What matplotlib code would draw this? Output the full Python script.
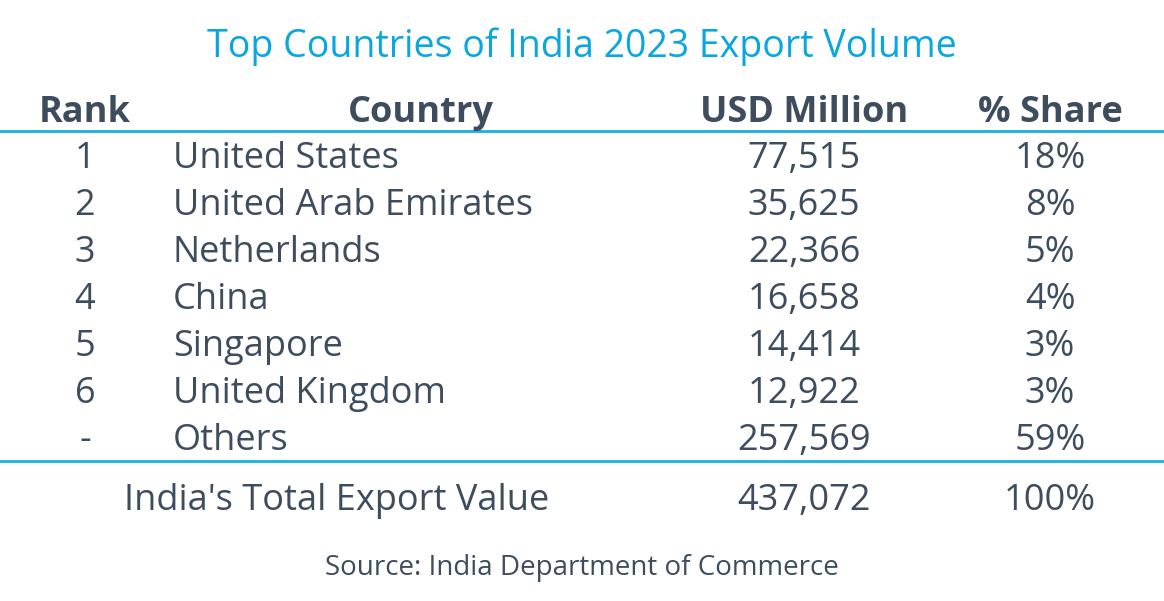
import matplotlib.pyplot as plt

# -----------------------------
# Данные таблицы
# -----------------------------

title = "Top Countries of India 2023 Export Volume"
headers = ["Rank", "Country", "USD Million", "% Share"]

ranks = ["1", "2", "3", "4", "5", "6", "-"]
countries = ["United States", "United Arab Emirates", "Netherlands", "China",
             "Singapore", "United Kingdom", "Others"]
usd_million = [77515, 35625, 22366, 16658, 14414, 12922, 257569]
shares = [18, 8, 5, 4, 3, 3, 59]

total_label = "India's Total Export Value"
total_usd = 437072
total_share = 100

source = "Source: India Department of Commerce"

# -----------------------------
# Оформление
# -----------------------------

W, H = 1164, 601
text_col = "#3e4d5e"
blue = "#0aa6e0"
line_col = "#18afe6"
font = "Open Sans"
fs = 26

fig = plt.figure(figsize=(W / 100, H / 100), dpi=100)
ax = fig.add_axes([0, 0, 1, 1])
ax.set_xlim(0, W)
ax.set_ylim(H, 0)
ax.axis("off")

# заголовок
ax.text(582, 57, title, ha="center", va="baseline", fontsize=27,
        color=blue, family=font)

# шапка
col_x = [85, 421, 804, 1050]
for x, h in zip(col_x, headers):
    ax.text(x, 122, h, ha="center", va="baseline", fontsize=26,
            fontweight="bold", color=text_col, family=font)

ax.plot([0, W], [131, 131], color=line_col, lw=2)

# строки
y0, dy = 168, 47
for i in range(len(ranks)):
    y = y0 + i * dy
    ax.text(col_x[0], y, ranks[i], ha="center", va="baseline",
            fontsize=fs, color=text_col, family=font)
    ax.text(173, y, countries[i], ha="left", va="baseline",
            fontsize=fs, color=text_col, family=font)
    ax.text(col_x[2], y, f"{usd_million[i]:,}", ha="center", va="baseline",
            fontsize=fs, color=text_col, family=font)
    ax.text(col_x[3], y, f"{shares[i]}%", ha="center", va="baseline",
            fontsize=fs, color=text_col, family=font)

ax.plot([0, W], [461, 461], color=line_col, lw=2)

# итог
ax.text(337, 510, total_label, ha="center", va="baseline", fontsize=fs,
        color=text_col, family=font)
ax.text(col_x[2], 510, f"{total_usd:,}", ha="center", va="baseline",
        fontsize=fs, color=text_col, family=font)
ax.text(col_x[3], 510, f"{total_share}%", ha="center", va="baseline",
        fontsize=fs, color=text_col, family=font)

# источник
ax.text(582, 575, source, ha="center", va="baseline", fontsize=20,
        color=text_col, family=font)

fig.savefig("out.png", dpi=100, facecolor="white")
